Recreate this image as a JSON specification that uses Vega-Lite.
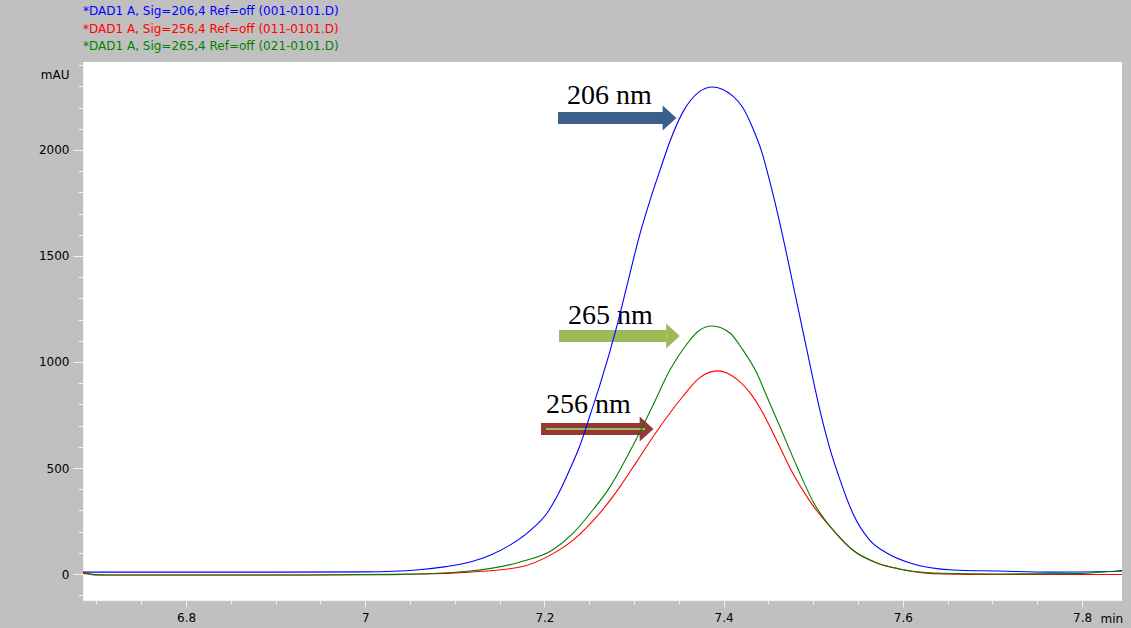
{
  "$schema": "https://vega.github.io/schema/vega-lite/v6.json",
  "width": 1039,
  "height": 538,
  "autosize": {"type": "none"},
  "padding": {"left": 83, "top": 62, "right": 9, "bottom": 28},
  "background": "#c0c0c0",
  "config": {"view": {"fill": "white", "stroke": null}, "font": "DejaVu Sans"},
  "datasets": {
    "curves": [
      {"s": "206", "t": 6.685, "v": 9}, {"s": "206", "t": 6.9, "v": 9}, {"s": "206", "t": 7.0, "v": 10},
      {"s": "206", "t": 7.06, "v": 20}, {"s": "206", "t": 7.09, "v": 35}, {"s": "206", "t": 7.12, "v": 60},
      {"s": "206", "t": 7.14, "v": 90}, {"s": "206", "t": 7.161, "v": 135}, {"s": "206", "t": 7.184, "v": 205},
      {"s": "206", "t": 7.203, "v": 288},
      {"s": "206", "t": 7.217, "v": 390}, {"s": "206", "t": 7.228, "v": 491}, {"s": "206", "t": 7.239, "v": 599},
      {"s": "206", "t": 7.251, "v": 750}, {"s": "206", "t": 7.262, "v": 893}, {"s": "206", "t": 7.281, "v": 1172},
      {"s": "206", "t": 7.295, "v": 1410}, {"s": "206", "t": 7.306, "v": 1595}, {"s": "206", "t": 7.318, "v": 1765},
      {"s": "206", "t": 7.329, "v": 1905}, {"s": "206", "t": 7.340, "v": 2040}, {"s": "206", "t": 7.354, "v": 2175},
      {"s": "206", "t": 7.373, "v": 2275}, {"s": "206", "t": 7.387, "v": 2297}, {"s": "206", "t": 7.410, "v": 2255},
      {"s": "206", "t": 7.421, "v": 2203}, {"s": "206", "t": 7.432, "v": 2108}, {"s": "206", "t": 7.443, "v": 1985},
      {"s": "206", "t": 7.451, "v": 1860}, {"s": "206", "t": 7.463, "v": 1650}, {"s": "206", "t": 7.470, "v": 1515},
      {"s": "206", "t": 7.477, "v": 1375}, {"s": "206", "t": 7.485, "v": 1215}, {"s": "206", "t": 7.493, "v": 1055},
      {"s": "206", "t": 7.502, "v": 875}, {"s": "206", "t": 7.507, "v": 780}, {"s": "206", "t": 7.518, "v": 600},
      {"s": "206", "t": 7.530, "v": 443}, {"s": "206", "t": 7.544, "v": 288}, {"s": "206", "t": 7.563, "v": 160},
      {"s": "206", "t": 7.582, "v": 99}, {"s": "206", "t": 7.608, "v": 52}, {"s": "206", "t": 7.656, "v": 19},
      {"s": "206", "t": 7.708, "v": 14}, {"s": "206", "t": 7.764, "v": 9}, {"s": "206", "t": 7.836, "v": 12},
      {"s": "206", "t": 7.8446, "v": 16},
      {"s": "256", "t": 6.685, "v": 9}, {"s": "256", "t": 6.70, "v": -5}, {"s": "256", "t": 6.93, "v": -5},
      {"s": "256", "t": 7.06, "v": 0}, {"s": "256", "t": 7.117, "v": 9}, {"s": "256", "t": 7.173, "v": 33},
      {"s": "256", "t": 7.209, "v": 95}, {"s": "256", "t": 7.232, "v": 160}, {"s": "256", "t": 7.262, "v": 288},
      {"s": "256", "t": 7.284, "v": 410}, {"s": "256", "t": 7.303, "v": 530}, {"s": "256", "t": 7.321, "v": 646},
      {"s": "256", "t": 7.354, "v": 835}, {"s": "256", "t": 7.373, "v": 925}, {"s": "256", "t": 7.393, "v": 958},
      {"s": "256", "t": 7.415, "v": 918}, {"s": "256", "t": 7.432, "v": 840}, {"s": "256", "t": 7.440, "v": 788},
      {"s": "256", "t": 7.459, "v": 632}, {"s": "256", "t": 7.477, "v": 476}, {"s": "256", "t": 7.496, "v": 345},
      {"s": "256", "t": 7.522, "v": 208}, {"s": "256", "t": 7.544, "v": 113}, {"s": "256", "t": 7.571, "v": 52},
      {"s": "256", "t": 7.596, "v": 24}, {"s": "256", "t": 7.633, "v": 2}, {"s": "256", "t": 7.708, "v": -2},
      {"s": "256", "t": 7.8446, "v": -2},
      {"s": "265", "t": 6.685, "v": 3}, {"s": "265", "t": 6.71, "v": -5}, {"s": "265", "t": 6.95, "v": -5},
      {"s": "265", "t": 7.03, "v": -3}, {"s": "265", "t": 7.117, "v": 14}, {"s": "265", "t": 7.173, "v": 57},
      {"s": "265", "t": 7.209, "v": 113}, {"s": "265", "t": 7.232, "v": 193}, {"s": "265", "t": 7.254, "v": 302},
      {"s": "265", "t": 7.273, "v": 410}, {"s": "265", "t": 7.292, "v": 552}, {"s": "265", "t": 7.306, "v": 665},
      {"s": "265", "t": 7.321, "v": 795}, {"s": "265", "t": 7.340, "v": 962}, {"s": "265", "t": 7.359, "v": 1085},
      {"s": "265", "t": 7.373, "v": 1150}, {"s": "265", "t": 7.387, "v": 1170}, {"s": "265", "t": 7.407, "v": 1137},
      {"s": "265", "t": 7.421, "v": 1060}, {"s": "265", "t": 7.437, "v": 948}, {"s": "265", "t": 7.448, "v": 840},
      {"s": "265", "t": 7.463, "v": 693}, {"s": "265", "t": 7.482, "v": 505}, {"s": "265", "t": 7.500, "v": 340},
      {"s": "265", "t": 7.522, "v": 208}, {"s": "265", "t": 7.544, "v": 113}, {"s": "265", "t": 7.571, "v": 52},
      {"s": "265", "t": 7.596, "v": 24}, {"s": "265", "t": 7.633, "v": 5}, {"s": "265", "t": 7.708, "v": 0},
      {"s": "265", "t": 7.797, "v": 2}, {"s": "265", "t": 7.83, "v": 12}, {"s": "265", "t": 7.8446, "v": 14}
    ],
    "arrows": [
      {"label": "206 nm", "t1": 7.2152, "t2": 7.3324, "th": 7.3396, "v": 2151, "tt": 7.2252, "tv": 2217},
      {"label": "265 nm", "t1": 7.2163, "t2": 7.3357, "th": 7.3435, "v": 1123, "tt": 7.2263, "tv": 1179},
      {"label": "256 nm", "t1": 7.1962, "t2": 7.3067, "th": 7.3140, "v": 684, "tt": 7.2018, "tv": 759, "g1": 7.2018, "g2": 7.3123}
    ]
  },
  "layer": [
    {
      "data": {"name": "arrows"},
      "mark": {"type": "rule", "strokeWidth": 12, "strokeCap": "butt"},
      "encoding": {
        "x": {"field": "t1", "type": "quantitative",
          "scale": {"domain": [6.685, 7.8446], "nice": false, "zero": false},
          "axis": {"orient": "bottom", "values": [6.7, 6.75, 6.85, 6.9, 6.95, 7.05, 7.1, 7.15, 7.25, 7.3, 7.35, 7.45, 7.5, 7.55, 7.65, 7.7, 7.75],
            "labels": false, "domain": false, "grid": false, "title": null, "tickSize": 4, "tickColor": "#f2f2f2"}},
        "x2": {"field": "t2"},
        "y": {"field": "v", "type": "quantitative",
          "scale": {"domain": [-122.6, 2415], "nice": false, "zero": false},
          "axis": {"orient": "left", "values": [-100, 100, 200, 300, 400, 600, 700, 800, 900, 1100, 1200, 1300, 1400, 1600, 1700, 1800, 1900, 2100, 2200, 2300, 2400],
            "labels": false, "domain": false, "grid": false, "title": null, "tickSize": 5, "tickColor": "#f2f2f2"}},
        "color": {"field": "label", "type": "nominal",
          "scale": {"domain": ["206 nm", "265 nm", "256 nm"], "range": ["#3a5f8b", "#9bbb59", "#953735"]}, "legend": null}
      }
    },
    {
      "data": {"name": "arrows"},
      "mark": {"type": "point", "shape": "M -0.55 -1 L 0.55 0 L -0.55 1 Z", "size": 625, "filled": true, "opacity": 1, "strokeWidth": 0},
      "encoding": {
        "x": {"field": "th", "type": "quantitative", "axis": null},
        "y": {"field": "v", "type": "quantitative", "axis": null},
        "color": {"field": "label", "type": "nominal",
          "scale": {"domain": ["206 nm", "265 nm", "256 nm"], "range": ["#3a5f8b", "#9bbb59", "#953735"]}, "legend": null}
      }
    },
    {
      "data": {"name": "arrows"},
      "transform": [{"filter": "datum.label == '256 nm'"}],
      "mark": {"type": "rule", "strokeWidth": 2, "color": "#9bbb59"},
      "encoding": {
        "x": {"field": "g1", "type": "quantitative", "axis": null},
        "x2": {"field": "g2"},
        "y": {"field": "v", "type": "quantitative", "axis": null}
      }
    },
    {
      "data": {"name": "arrows"},
      "mark": {"type": "text", "font": "Liberation Serif", "fontSize": 28, "align": "left", "baseline": "alphabetic", "color": "black"},
      "encoding": {
        "x": {"field": "tt", "type": "quantitative", "axis": null},
        "y": {"field": "tv", "type": "quantitative", "axis": null},
        "text": {"field": "label"}
      }
    },
    {
      "data": {"name": "curves"},
      "mark": {"type": "line", "strokeWidth": 1.1, "clip": true, "interpolate": "monotone"},
      "encoding": {
        "x": {"field": "t", "type": "quantitative",
          "axis": {"orient": "bottom", "values": [6.8, 7, 7.2, 7.4, 7.6, 7.8], "format": "~g",
            "title": "min", "titleX": 1017, "titleY": 18, "titleAlign": "left", "titleBaseline": "middle",
            "titleFont": "DejaVu Sans", "titleFontSize": 12, "titleFontWeight": "normal", "titleColor": "black",
            "labelFont": "DejaVu Sans", "labelFontSize": 12, "labelColor": "black", "labelPadding": 5, "labelFlush": false, "labelOverlap": false,
            "tickSize": 7, "tickColor": "#f2f2f2", "domainColor": "#f2f2f2", "grid": false}},
        "y": {"field": "v", "type": "quantitative",
          "axis": {"orient": "left", "values": [0, 500, 1000, 1500, 2000], "format": "d",
            "title": "mAU", "titleAngle": 0, "titleX": -14, "titleY": 12, "titleAlign": "right", "titleBaseline": "middle",
            "titleFont": "DejaVu Sans", "titleFontSize": 12, "titleFontWeight": "normal", "titleColor": "black",
            "labelFont": "DejaVu Sans", "labelFontSize": 12, "labelColor": "black", "labelPadding": 4, "labelFlush": false, "labelOverlap": false,
            "tickSize": 10, "tickColor": "#f2f2f2", "domainColor": "#f2f2f2", "grid": false}},
        "color": {"field": "s", "type": "nominal",
          "scale": {"domain": ["206", "256", "265"], "range": ["#0000ff", "#ff0000", "#008000"]},
          "legend": {"orient": "none", "legendX": -12, "legendY": -57, "title": null, "direction": "vertical",
            "symbolSize": 0, "symbolOpacity": 0, "symbolStrokeWidth": 0, "symbolType": "circle",
            "labelOffset": 0, "labelFont": "DejaVu Sans", "labelFontSize": 12, "labelLimit": 0, "padding": 0, "rowPadding": 5.5,
            "labelExpr": "datum.label == '206' ? '*DAD1 A, Sig=206,4 Ref=off (001-0101.D)' : datum.label == '256' ? '*DAD1 A, Sig=256,4 Ref=off (011-0101.D)' : '*DAD1 A, Sig=265,4 Ref=off (021-0101.D)'",
            "labelColor": {"expr": "datum.value == '206' ? '#0000ff' : datum.value == '256' ? '#ff0000' : '#008000'"}}}
      }
    }
  ],
  "resolve": {"axis": {"x": "independent", "y": "independent"}, "scale": {"color": "independent"}}
}
